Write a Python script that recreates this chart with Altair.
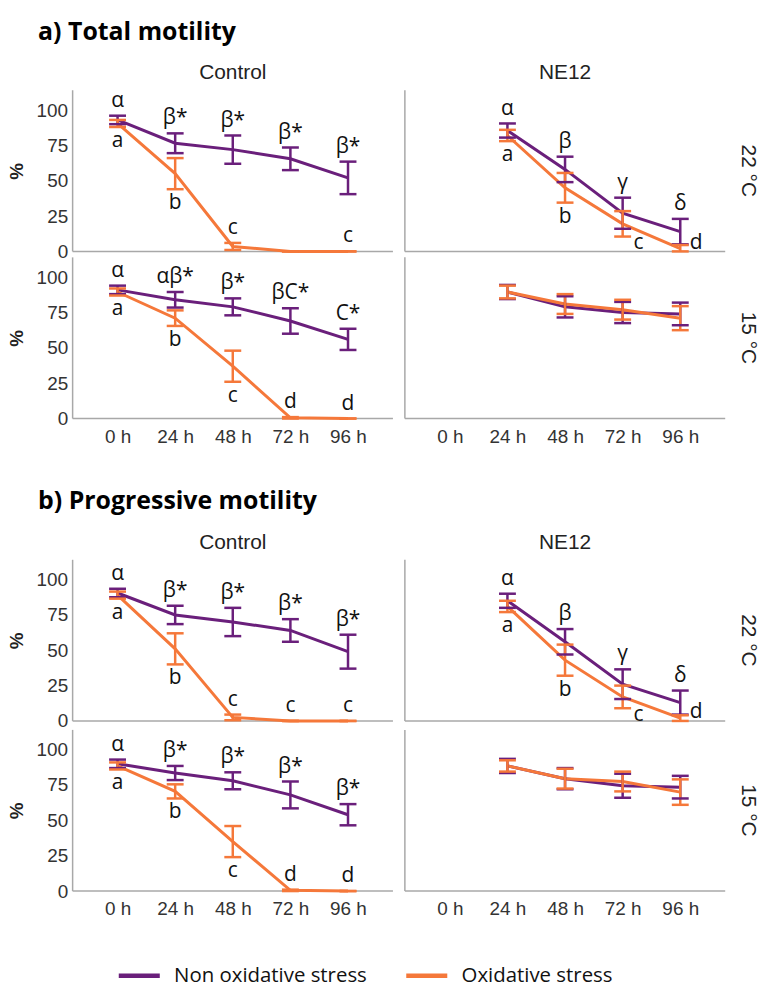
import altair as alt
import pandas as pd

times = ["0 h", "24 h", "48 h", "72 h", "96 h"]
series_names = ["Non oxidative stress", "Oxidative stress"]
section_titles = ["a) Total motility", "b) Progressive motility"]
treatments = ["Control", "NE12"]
temps = ["22 °C", "15 °C"]

# ---- a) Total motility ----
a_c22_non_mean = [93, 76.5, 72, 65.5, 52]
a_c22_non_err = [3, 7, 10, 8, 11.5]
a_c22_ox_mean = [90.5, 55, 3.5, 0, 0]
a_c22_ox_err = [2.5, 11, 2.5, 0, 0]
a_c22_non_lab = ["α", "β*", "β*", "β*", "β*"]
a_c22_ox_lab = ["a", "b", "c", "", "c"]

a_n22_non_mean = [None, 85.5, 58, 27, 14]
a_n22_non_err = [None, 5, 9, 11, 9]
a_n22_ox_mean = [None, 82, 45, 19.5, 2]
a_n22_ox_err = [None, 4, 10.5, 9, 2.5]
a_n22_non_lab = ["", "α", "β", "γ", "δ"]
a_n22_ox_lab = ["", "a", "b", "c", "d"]

a_c15_non_mean = [91, 84, 79, 69, 56]
a_c15_non_err = [3, 5.5, 6, 9, 7.5]
a_c15_ox_mean = [89.5, 71, 37, 0.5, 0]
a_c15_ox_err = [2.5, 5.5, 11, 0.5, 0]
a_c15_non_lab = ["α", "αβ*", "β*", "βC*", "C*"]
a_c15_ox_lab = ["a", "b", "c", "d", "d"]

a_n15_non_mean = [None, 89.5, 79, 75, 74]
a_n15_non_err = [None, 5, 7.5, 7.5, 8]
a_n15_ox_mean = [None, 89.5, 81, 77, 71]
a_n15_ox_err = [None, 4.5, 7, 7, 8.5]
a_n15_non_lab = ["", "", "", "", ""]
a_n15_ox_lab = ["", "", "", "", ""]

# ---- b) Progressive motility ----
b_c22_non_mean = [90.5, 75, 70, 64, 49]
b_c22_non_err = [3, 6.5, 10, 8, 12]
b_c22_ox_mean = [89, 51, 2.5, 0, 0]
b_c22_ox_err = [2.5, 11, 2, 0, 0]
b_c22_non_lab = ["α", "β*", "β*", "β*", "β*"]
b_c22_ox_lab = ["a", "b", "c", "c", "c"]

b_n22_non_mean = [None, 85, 56, 26, 13]
b_n22_non_err = [None, 5, 9, 10.5, 8.5]
b_n22_ox_mean = [None, 81, 43, 17, 2]
b_n22_ox_err = [None, 4, 11, 8, 2]
b_n22_non_lab = ["", "α", "β", "γ", "δ"]
b_n22_ox_lab = ["", "a", "b", "c", "d"]

b_c15_non_mean = [90, 83.5, 78, 68, 54]
b_c15_non_err = [3, 5, 6, 9.5, 7.5]
b_c15_ox_mean = [88.5, 70.5, 35, 0.5, 0]
b_c15_ox_err = [2.5, 5, 11, 0.5, 0]
b_c15_non_lab = ["α", "β*", "β*", "β*", "β*"]
b_c15_ox_lab = ["a", "b", "c", "d", "d"]

b_n15_non_mean = [None, 88.5, 79.5, 74.5, 73.5]
b_n15_non_err = [None, 5, 7.5, 8.5, 8]
b_n15_ox_mean = [None, 88.5, 79.5, 77.5, 70]
b_n15_ox_err = [None, 4, 7, 7, 9]
b_n15_non_lab = ["", "", "", "", ""]
b_n15_ox_lab = ["", "", "", "", ""]

panels = [
    ("a", "Control", "22 °C", a_c22_non_mean, a_c22_non_err, a_c22_ox_mean, a_c22_ox_err, a_c22_non_lab, a_c22_ox_lab),
    ("a", "NE12", "22 °C", a_n22_non_mean, a_n22_non_err, a_n22_ox_mean, a_n22_ox_err, a_n22_non_lab, a_n22_ox_lab),
    ("a", "Control", "15 °C", a_c15_non_mean, a_c15_non_err, a_c15_ox_mean, a_c15_ox_err, a_c15_non_lab, a_c15_ox_lab),
    ("a", "NE12", "15 °C", a_n15_non_mean, a_n15_non_err, a_n15_ox_mean, a_n15_ox_err, a_n15_non_lab, a_n15_ox_lab),
    ("b", "Control", "22 °C", b_c22_non_mean, b_c22_non_err, b_c22_ox_mean, b_c22_ox_err, b_c22_non_lab, b_c22_ox_lab),
    ("b", "NE12", "22 °C", b_n22_non_mean, b_n22_non_err, b_n22_ox_mean, b_n22_ox_err, b_n22_non_lab, b_n22_ox_lab),
    ("b", "Control", "15 °C", b_c15_non_mean, b_c15_non_err, b_c15_ox_mean, b_c15_ox_err, b_c15_non_lab, b_c15_ox_lab),
    ("b", "NE12", "15 °C", b_n15_non_mean, b_n15_non_err, b_n15_ox_mean, b_n15_ox_err, b_n15_non_lab, b_n15_ox_lab),
]

rows = []
for sec, trt, temp, nm, ne, om, oe, nl, ol in panels:
    for series, means, errs, labs in ((series_names[0], nm, ne, nl), (series_names[1], om, oe, ol)):
        for t, m, e, lab in zip(times, means, errs, labs):
            if m is None:
                continue
            lo, hi = max(m - e, 0), m + e
            if series == series_names[0]:
                place = "above"
            elif trt == "NE12" and t == "72 h":
                place = "belowright"
            elif trt == "NE12" and t == "96 h":
                place = "right"
            elif lo < 10:
                place = "above"
            else:
                place = "below"
            rows.append(dict(section=sec, trt=trt, temp=temp, time=t, series=series,
                             mean=m, lo=lo, hi=hi, label=lab, place=place))
df = pd.DataFrame(rows)

PURPLE = "#6a1f7b"
ORANGE = "#f5783a"
GRAY = "#a8a8a8"
W, H = 322, 162

def section_chart(sec, title, row_spacing):
    x = alt.X("time:N", sort=times, scale=alt.Scale(type="point", padding=0.78),
              axis=alt.Axis(title=None, labelAngle=0, labelPadding=9))
    yscale = alt.Scale(domain=[0, 114], nice=False, zero=True)
    yaxis = alt.Axis(values=[0, 25, 50, 75, 100], title="%", titleAngle=-90,
                     titleFontWeight="bold", titleFontSize=19, titlePadding=10,
                     labelPadding=5)
    legend = alt.Legend(title=None, orient="bottom", direction="horizontal",
                        symbolType="stroke", offset=-10, padding=44,
                        symbolStrokeWidth=4.5, symbolSize=1700, symbolOpacity=1,
                        labelFont="Open Sans", labelLimit=0,
                        labelFontSize=20.5, labelColor="#111", columnPadding=30,
                        labelOffset=12)
    color = alt.Color("series:N", scale=alt.Scale(domain=series_names, range=[PURPLE, ORANGE]),
                      legend=legend)
    base = alt.Chart()
    one = "datum.time == '24 h' && datum.series == 'Oxidative stress'"
    hrule = base.transform_filter(one).mark_rule(color=GRAY, strokeWidth=1.5).encode(
        y=alt.datum(0, scale=yscale))
    vrule = base.transform_filter(one).mark_rule(color=GRAY, strokeWidth=1.5).encode(
        x=alt.value(0))
    line = base.mark_line(strokeWidth=3).encode(
        x=x, y=alt.Y("mean:Q", scale=yscale, axis=yaxis), color=color)
    bars = base.mark_rule(strokeWidth=2.5).encode(
        x=x, y=alt.Y("lo:Q", scale=yscale), y2="hi:Q", color=color)
    cap_lo = base.mark_tick(size=17, thickness=2.5, orient="horizontal", opacity=1).encode(
        x=x, y=alt.Y("lo:Q", scale=yscale), color=color)
    cap_hi = base.mark_tick(size=17, thickness=2.5, orient="horizontal", opacity=1).encode(
        x=x, y=alt.Y("hi:Q", scale=yscale), color=color)
    tx = dict(font="Open Sans", fontSize=21, color="#111", baseline="middle", align="center")
    t_above = base.transform_filter("datum.place == 'above' && datum.label != ''").mark_text(
        dy=-15, **tx).encode(x=x, y=alt.Y("hi:Q", scale=yscale), text="label:N")
    t_below = base.transform_filter("datum.place == 'below' && datum.label != ''").mark_text(
        dy=14, **tx).encode(x=x, y=alt.Y("lo:Q", scale=yscale), text="label:N")
    t_br = base.transform_filter("datum.place == 'belowright' && datum.label != ''").mark_text(
        dy=7, dx=16, **tx).encode(x=x, y=alt.Y("lo:Q", scale=yscale), text="label:N")
    t_r = base.transform_filter("datum.place == 'right' && datum.label != ''").mark_text(
        dy=-6, dx=16, **tx).encode(x=x, y=alt.Y("mean:Q", scale=yscale), text="label:N")
    layered = alt.layer(hrule, vrule, line, bars, cap_lo, cap_hi, t_above, t_below, t_br, t_r,
                        data=df[df.section == sec]).properties(width=W, height=H)
    return layered.facet(
        row=alt.Row("temp:N", sort=temps, title=None,
                    header=alt.Header(labelOrient="right", labelAngle=90, labelPadding=13)),
        column=alt.Column("trt:N", sort=treatments, title=None,
                          header=alt.Header(labelOrient="top", labelPadding=7)),
        spacing={"row": row_spacing, "column": 12},
        bounds="flush",
    ).properties(title=alt.Title(title, anchor="start", dx=31, offset=18))

chart = alt.vconcat(
    section_chart("a", section_titles[0], 6),
    section_chart("b", section_titles[1], 9),
    spacing=43,
).configure_view(stroke=None).configure_axis(
    labelFont="Liberation Sans", labelFontSize=19, labelColor="#333",
    titleFont="Liberation Sans", titleColor="#222",
    ticks=False, domain=False, grid=False,
).configure_header(
    labelFont="Liberation Sans", labelFontSize=21, labelColor="#222",
).configure_title(
    font="Open Sans", fontSize=25, fontWeight="bold", color="#000",
).properties(padding={"left": 7, "top": 17, "right": 5, "bottom": 5})

chart.save("out.html", embed_options={"renderer": "svg", "actions": False})
